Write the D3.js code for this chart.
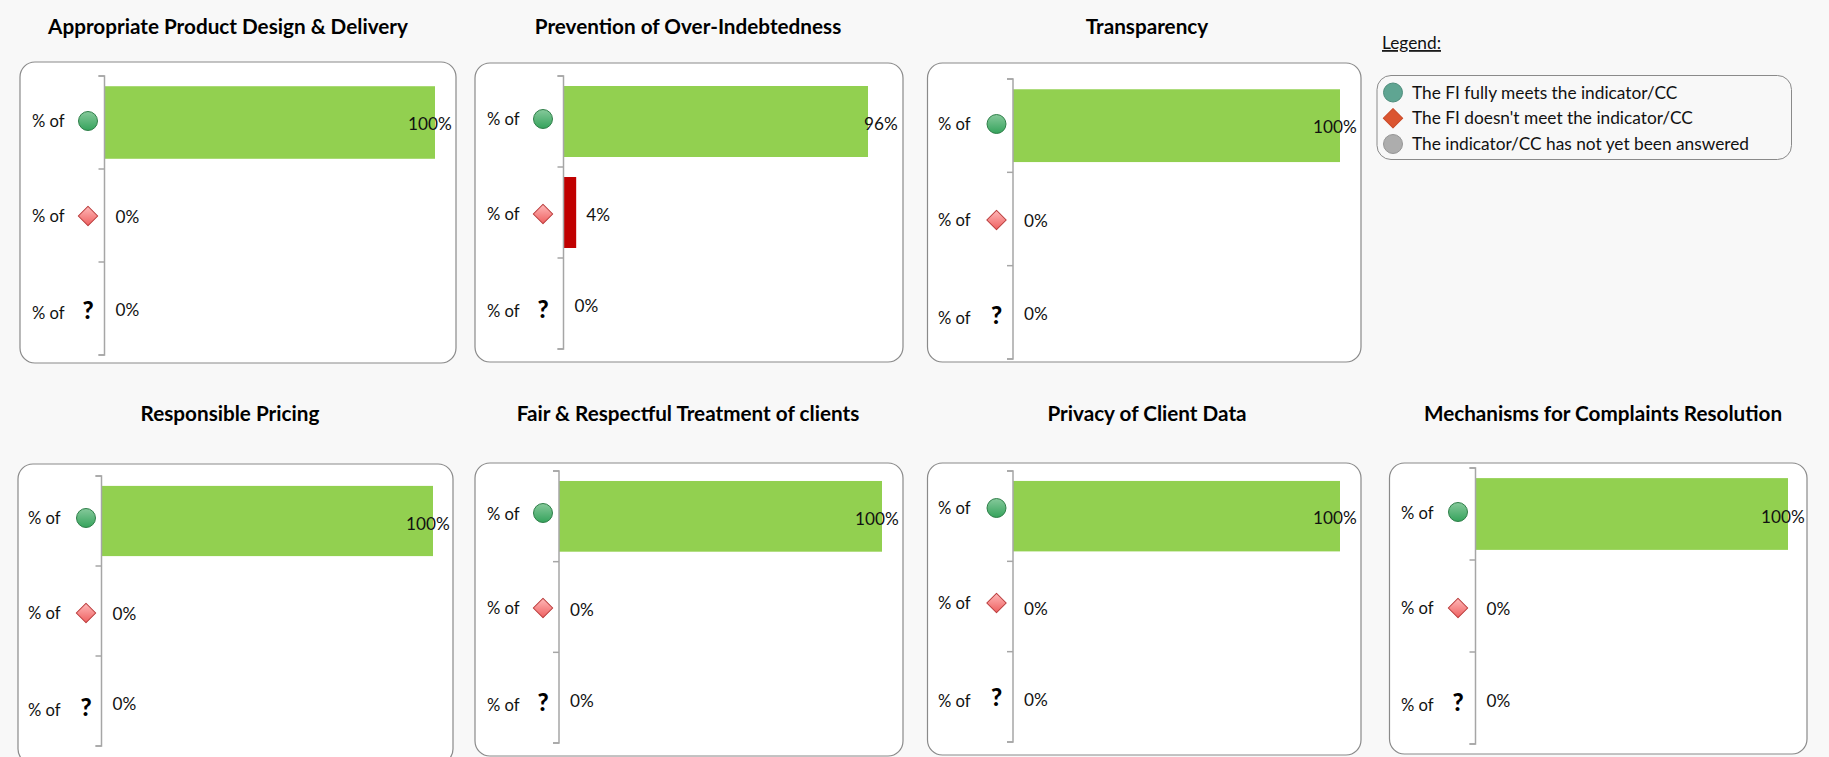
<!DOCTYPE html>
<html>
<head>
<meta charset="utf-8">
<title>Client protection indicators</title>
<script src="https://cdn.jsdelivr.net/npm/d3@7"></script>
<style>
	html, body { margin: 0; padding: 0; background: #f8f8f8; overflow: hidden; }
	svg { display: block; }
	text { font-family: Lato, "Open Sans", sans-serif; fill: #111; }
	.panel-title { font-size: 20.7px; font-weight: 700; text-anchor: middle; fill: #000; }
	.cat-label { font-size: 16.6px; }
	.value-label { font-size: 17.2px; }
	.question { font-size: 24px; font-weight: 900; text-anchor: middle; fill: #000; }
	.legend-text { font-size: 17.3px; }
	.axis path, .axis line { stroke: #a6a6a6; stroke-width: 1.5px; }
</style>
</head>
<body>
<svg id="chart" width="1829" height="757"></svg>
<script>
// data
var panelTitles = [
	"Appropriate Product Design & Delivery",
	"Prevention of Over-Indebtedness",
	"Transparency",
	"Responsible Pricing",
	"Fair & Respectful Treatment of clients",
	"Privacy of Client Data",
	"Mechanisms for Complaints Resolution"
];
var categories = ["meets", "doesNotMeet", "notAnswered"];
var categoryLabel = "% of";
var meetsValues = [100, 96, 100, 100, 100, 100, 100];
var doesNotMeetValues = [0, 4, 0, 0, 0, 0, 0];
var notAnsweredValues = [0, 0, 0, 0, 0, 0, 0];
var legendTitle = "Legend:";
var legendLabels = [
	"The FI fully meets the indicator/CC",
	"The FI doesn't meet the indicator/CC",
	"The indicator/CC has not yet been answered"
];

// hand placed layout, one entry per panel (the source was assembled by hand too)
var layouts = [
	{titleX: 228, titleY: 27, box: [20, 62, 436, 301], axisX: 104.5, barEnd: 435, top: 76, bottom: 355, labelX: 32, iconX: 88, labelY: [120, 215, 312], iconY: [121, 216, 311], valueY: [123, 216, 309]},
	{titleX: 688, titleY: 27, box: [475, 63, 428, 299], axisX: 563.5, barEnd: 880.7, top: 76, bottom: 349, labelX: 487, iconX: 543, labelY: [118, 213, 310], iconY: [119, 214, 310], valueY: [123, 214, 305]},
	{titleX: 1147, titleY: 27, box: [927.5, 63, 433.5, 299], axisX: 1013, barEnd: 1340, top: 79, bottom: 359, labelX: 938, iconX: 996.5, labelY: [123, 219, 317], iconY: [124, 220, 316], valueY: [126, 220, 313]},
	{titleX: 230, titleY: 414, box: [18, 464, 435, 300], axisX: 101.5, barEnd: 433, top: 476, bottom: 746, labelX: 28, iconX: 86, labelY: [517, 612, 709], iconY: [518, 613, 708], valueY: [523, 613, 703]},
	{titleX: 688, titleY: 414, box: [475, 463, 428, 293], axisX: 559, barEnd: 882, top: 471, bottom: 743, labelX: 487, iconX: 543, labelY: [513, 607, 704], iconY: [513, 608, 703], valueY: [518, 609, 700]},
	{titleX: 1147, titleY: 414, box: [927.5, 463, 433.5, 292], axisX: 1013, barEnd: 1340, top: 471, bottom: 742, labelX: 938, iconX: 996.5, labelY: [507, 602, 700], iconY: [508, 603, 698], valueY: [517, 608, 699]},
	{titleX: 1603, titleY: 414, box: [1389.5, 463, 417.5, 291], axisX: 1475.5, barEnd: 1788, top: 468, bottom: 744, labelX: 1401, iconX: 1458, labelY: [512, 607, 704], iconY: [512, 608, 703], valueY: [516, 608, 700]}
];

var svg = d3.select("#chart");
var barColors = {meets: "#92d050", doesNotMeet: "#c00000", notAnswered: "#a6a6a6"};
var circlePath = d3.symbol(d3.symbolCircle, Math.PI * 90)();
var squarePath = d3.symbol(d3.symbolSquare, 190)();

var initGradients = function() {
	var defs = svg.append("defs");
	var green = defs.append("linearGradient").attr("id", "greenIcon")
		.attr("x1", 0).attr("y1", 0).attr("x2", 0).attr("y2", 1);
	green.append("stop").attr("offset", "0%").attr("stop-color", "#86c99b");
	green.append("stop").attr("offset", "100%").attr("stop-color", "#35a35c");
	// the diamond is rotated, so its gradient runs corner to corner
	var red = defs.append("linearGradient").attr("id", "redIcon")
		.attr("x1", 0).attr("y1", 0).attr("x2", 1).attr("y2", 1);
	red.append("stop").attr("offset", "0%").attr("stop-color", "#ffb9b9");
	red.append("stop").attr("offset", "100%").attr("stop-color", "#ee5f5f");
};

/**
* draw the status icon of a category
*/
var drawIcon = function(g, category, x, y) {
	if (category === "meets") {
		g.append("path").attr("d", circlePath)
			.attr("transform", "translate(" + x + "," + y + ")")
			.attr("fill", "url(#greenIcon)").attr("stroke", "#2f7f49").attr("stroke-width", 1);
	} else if (category === "doesNotMeet") {
		g.append("path").attr("d", squarePath)
			.attr("transform", "translate(" + x + "," + y + ") rotate(45)")
			.attr("fill", "url(#redIcon)").attr("stroke", "#b93c3c").attr("stroke-width", 1)
			.attr("stroke-linejoin", "round");
	} else {
		g.append("text").attr("class", "question")
			.attr("x", x).attr("y", y).attr("dy", "0.35em").text("?");
	}
};

/**
* draw one panel
*/
var drawPanel = function(i) {
	var lay = layouts[i],
		values = [meetsValues[i], doesNotMeetValues[i], notAnsweredValues[i]],
		g = svg.append("g");

	g.append("text").attr("class", "panel-title")
		.attr("x", lay.titleX).attr("y", lay.titleY).attr("dy", "0.35em")
		.text(panelTitles[i]);

	g.append("rect")
		.attr("x", lay.box[0]).attr("y", lay.box[1])
		.attr("width", lay.box[2]).attr("height", lay.box[3])
		.attr("rx", 15).attr("ry", 15)
		.attr("fill", "#fff").attr("stroke", "#8a8a8a").attr("stroke-width", 1.2);

	var xScale = d3.scaleLinear().domain([0, 100]).range([lay.axisX, lay.barEnd]);
	var yScale = d3.scaleBand().domain(categories).range([lay.top, lay.bottom])
		.paddingInner(0.22).paddingOuter(0.11);
	// the axis has its ticks between the categories, so it runs on band edges
	var edgeScale = d3.scaleLinear().domain([0, categories.length]).range([lay.top, lay.bottom]);

	g.selectAll("rect.bar")
		.data(categories)
		.enter()
		.append("rect")
		.attr("class", "bar")
		.attr("x", xScale(0))
		.attr("y", function(d) { return yScale(d); })
		.attr("width", function(d, j) { return xScale(values[j]) - xScale(0); })
		.attr("height", yScale.bandwidth())
		.attr("fill", function(d) { return barColors[d]; });

	g.append("g")
		.attr("class", "axis")
		.attr("transform", "translate(" + lay.axisX + ",0)")
		.call(d3.axisLeft(edgeScale).offset(0).ticks(categories.length).tickSize(6).tickFormat(""));

	categories.forEach(function(c, j) {
		g.append("text").attr("class", "cat-label")
			.attr("x", lay.labelX).attr("y", lay.labelY[j]).attr("dy", "0.4em")
			.text(categoryLabel);

		drawIcon(g, c, lay.iconX, lay.iconY[j]);

		// full bars have the label sitting across the bar end, as in the source
		var v = values[j],
			dx = v === 100 ? -27 : (v > 50 ? -4 : (v > 0 ? 10 : 11));
		g.append("text").attr("class", "value-label")
			.attr("x", xScale(v) + dx).attr("y", lay.valueY[j]).attr("dy", "0.4em")
			.text(v + "%");
	});
};

var drawLegend = function() {
	var g = svg.append("g");
	var rowScale = d3.scalePoint().domain(legendLabels).range([92.5, 144]);

	g.append("text").attr("class", "legend-text")
		.attr("x", 1382).attr("y", 43).attr("dy", "0.35em")
		.attr("text-decoration", "underline")
		.text(legendTitle);

	g.append("rect")
		.attr("x", 1377).attr("y", 75.5).attr("width", 414.5).attr("height", 84)
		.attr("rx", 14).attr("ry", 14)
		.attr("fill", "none").attr("stroke", "#8a8a8a").attr("stroke-width", 1);

	g.selectAll("text.legend-row")
		.data(legendLabels)
		.enter()
		.append("text")
		.attr("class", "legend-row legend-text")
		.attr("x", 1412)
		.attr("y", function(d) { return rowScale(d); })
		.attr("dy", "0.35em")
		.text(function(d) { return d; });

	g.append("path").attr("d", circlePath)
		.attr("transform", "translate(1393," + rowScale(legendLabels[0]) + ")")
		.attr("fill", "#5fa592").attr("stroke", "#4f8d7c");
	g.append("path").attr("d", squarePath)
		.attr("transform", "translate(1393," + rowScale(legendLabels[1]) + ") rotate(45)")
		.attr("fill", "#db5530").attr("stroke", "#c94a28").attr("stroke-linejoin", "round");
	g.append("path").attr("d", circlePath)
		.attr("transform", "translate(1393," + rowScale(legendLabels[2]) + ")")
		.attr("fill", "#adadad").attr("stroke", "#969696");
};

initGradients();
panelTitles.forEach(function(t, i) { drawPanel(i); });
drawLegend();
</script>
</body>
</html>
